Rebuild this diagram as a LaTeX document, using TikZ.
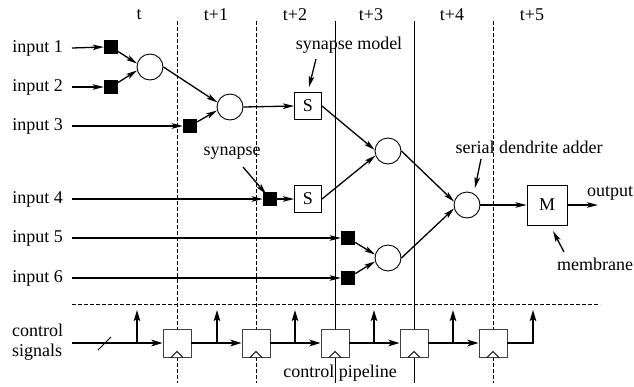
\documentclass[tikz,border=0pt]{standalone}
\usepackage{fontspec}
\setmainfont{Liberation Serif}
\usetikzlibrary{arrows.meta}

\begin{document}
\begin{tikzpicture}[x=1pt,y=-1pt,
  font=\fontsize{18}{20}\selectfont,
  synbox/.style={fill=black, minimum size=14pt, inner sep=0pt},
  adder/.style={circle, draw, line width=0.9pt, minimum size=26pt, inner sep=0pt},
  unitbox/.style={draw, line width=0.9pt, fill=white, minimum size=27pt, inner sep=0pt},
  regbox/.style={draw=black!75, line width=0.9pt, fill=white, minimum size=28pt, inner sep=0pt},
  tip/.tip={Stealth[length=11pt,width=5.5pt,inset=2.5pt]},
  wire/.style={line width=1.3pt, -tip},
  ctl/.style={line width=2.6pt, -{Stealth[length=11pt,width=6.5pt,inset=2.5pt]}},
  divider/.style={line width=0.9pt},
  dashdiv/.style={divider, dash pattern=on 4pt off 2pt},
  txt/.style={inner sep=0pt}
]
\useasboundingbox (0,0) rectangle (634,386);

% pipeline stage dividers
\draw[dashdiv] (177,21) -- (177,383);
\draw[dashdiv] (256,21) -- (256,383);
\draw[divider] (335,21) -- (335,383);
\draw[divider] (414,21) -- (414,383);
\draw[dashdiv] (493,21) -- (493,383);
\draw[dashdiv] (72,304) -- (600,304);

% stage labels
\node[txt] (l0) at (139,15) {t};
\node[txt] (l1) at (216,15) {t+1};
\node[txt] (l2) at (295,15) {t+2};
\node[txt] (l3) at (371,15) {t+3};
\node[txt] (l4) at (452,15) {t+4};
\node[txt] (l5) at (532,15) {t+5};

% input labels and wire origins
\foreach \i/\y in {1/48,2/87,3/126,4/199,5/238,6/278}{
  \node[txt, anchor=east] (in\i) at (63,\y) {input \i};
  \coordinate (w\i) at (72,\y);
}

% synapses
\node[synbox] (s1) at (111,47) {};
\node[synbox] (s2) at (111,87) {};
\node[synbox] (s3) at (190,126) {};
\node[synbox] (s4) at (270,199) {};
\node[synbox] (s5) at (348,238) {};
\node[synbox] (s6) at (348,278) {};

% dendrite adders
\node[adder] (c1) at (150,67) {};
\node[adder] (c2) at (230,107) {};
\node[adder] (c3) at (388,151) {};
\node[adder] (c4) at (388,258) {};
\node[adder] (c5) at (467,205) {};

% synapse models and membrane
\node[unitbox] (m1) at (308,106) {S};
\node[unitbox] (m2) at (308,199) {S};
\node[unitbox, minimum size=40pt] (mem) at (547,205) {M};
\coordinate (out) at (598,205);
\node[txt, anchor=west] (outl) at (587,193) {output};

% input wires
\foreach \i in {1,...,6}{ \draw[wire] (w\i) -- (s\i.west); }

% data path
\draw[wire] (s1) -- (c1.165);
\draw[wire] (s2) -- (c1.195);
\draw[wire] (c1.east) -- (c2.160);
\draw[wire] (s3) -- (c2.195);
\draw[wire] (c2.east) -- (m1.west);
\draw[wire] (s4.east) -- (m2.west);
\draw[wire] (m1.east) -- (c3.175);
\draw[wire] (m2.east) -- (c3.200);
\draw[wire] (s5) -- (c4.165);
\draw[wire] (s6) -- (c4.195);
\draw[wire] (c3.east) -- (c5.165);
\draw[wire] (c4.east) -- (c5.195);
\draw[wire] (c5.east) -- (mem.west);
\draw[wire] (mem.east) -- (out);

% annotations
\node[txt] (a1) at (349,45) {synapse model};
\coordinate (a1s) at (316,59); \coordinate (a1e) at (309,87);
\draw[wire] (a1s) -- (a1e);
\node[txt] (a2) at (232,153) {synapse};
\coordinate (a2s) at (243,167); \coordinate (a2e) at (266,194);
\draw[wire] (a2s) -- (a2e);
\node[txt] (a3) at (529,147) {serial dendrite adder};
\coordinate (a3s) at (481,159); \coordinate (a3e) at (475,188);
\draw[wire] (a3s) -- (a3e);
\node[txt, anchor=west] (a4) at (557,264) {membrane};
\coordinate (a4s) at (564,252); \coordinate (a4e) at (553,231);
\draw[wire] (a4s) -- (a4e);

% control pipeline
\node[txt, align=left, anchor=west] (cs) at (12,342) {control\\signals};
\node[txt] (cp) at (340,373) {control pipeline};
\foreach \k/\x in {1/177,2/256,3/335,4/414,5/493}{
  \node[regbox] (p\k) at (\x,343) {};
  \draw[line width=0.8pt] ([xshift=-6pt]p\k.south) -- ([yshift=6pt]p\k.south) -- ([xshift=6pt]p\k.south);
}
\coordinate (cin) at (72,343);
\coordinate (cend) at (533,343);
\foreach \k/\x in {0/137,1/217,2/295,3/374,4/453,5/533}{
  \coordinate (b\k) at (\x,343);
  \coordinate (t\k) at (\x,310);
}
\draw[ctl] (cin) -- (p1.west);
\draw[ctl] (p1.east) -- (p2.west);
\draw[ctl] (p2.east) -- (p3.west);
\draw[ctl] (p3.east) -- (p4.west);
\draw[ctl] (p4.east) -- (p5.west);
\draw[ctl] (p5.east) -- (cend) -- (t5);
\foreach \k in {0,...,4}{ \draw[ctl] (b\k) -- (t\k); }
\coordinate (sl1) at (98,350); \coordinate (sl2) at (111,337);
\draw[line width=0.8pt] (sl1) -- (sl2);
\end{tikzpicture}
\end{document}
